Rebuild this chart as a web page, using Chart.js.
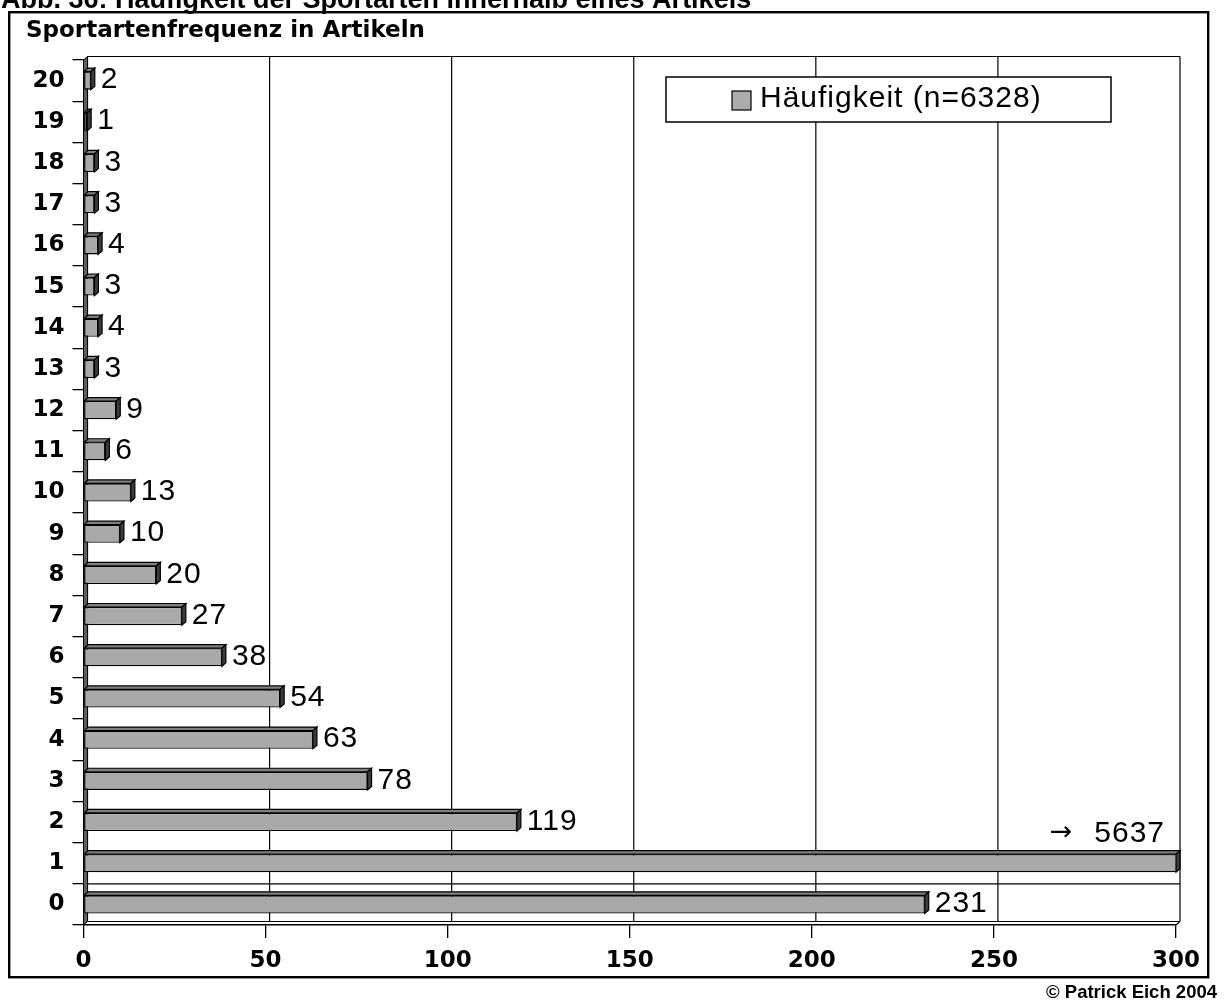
<!DOCTYPE html>
<html lang="de">
<head>
<meta charset="utf-8">
<title>Sportartenfrequenz in Artikeln</title>
<script src="https://cdn.jsdelivr.net/npm/chart.js@4/dist/chart.umd.min.js"></script>
<style>
  html, body { margin: 0; padding: 0; background: #fff; }
  #wrap { position: relative; width: 1224px; height: 1001px; }
  canvas { display: block; }
</style>
</head>
<body>
<div id="wrap"><canvas id="c" width="1224" height="1001"></canvas></div>
<script>
// Number of different sports mentioned per article (0 … 20)
const categories = ['0','1','2','3','4','5','6','7','8','9','10','11','12','13','14','15','16','17','18','19','20'];
const frequencies = [231, 5637, 119, 78, 63, 54, 38, 27, 20, 10, 13, 6, 9, 3, 4, 3, 4, 3, 3, 1, 2];
const valueTicks = [0, 50, 100, 150, 200, 250, 300];
const seriesLabel = 'Häufigkeit (n=6328)';
const figureCaption = 'Abb. 36: Häufigkeit der Sportarten innerhalb eines Artikels';
const chartTitle = 'Sportartenfrequenz in Artikeln';
const credit = '© Patrick Eich 2004';

// pseudo-3D depth of bars and walls
const DX = 4, DY = 3.5;

function poly(ctx, pts, fill) {
  ctx.beginPath();
  ctx.moveTo(pts[0][0], pts[0][1]);
  for (let i = 1; i < pts.length; i++) ctx.lineTo(pts[i][0], pts[i][1]);
  ctx.closePath();
  if (fill) { ctx.fillStyle = fill; ctx.fill(); }
  ctx.stroke();
}
function seg(ctx, x1, y1, x2, y2) {
  ctx.beginPath(); ctx.moveTo(x1, y1); ctx.lineTo(x2, y2); ctx.stroke();
}

// back wall, floor and side wall of the 3D plot box
const wallPlugin = {
  id: 'walls',
  beforeDatasetsDraw(chart) {
    const { ctx, chartArea: a, scales: { x, y } } = chart;
    ctx.save();
    ctx.strokeStyle = '#000';
    ctx.lineWidth = 1.2;
    x.ticks.forEach(t => {
      const px = x.getPixelForValue(t.value) + DX;
      seg(ctx, px, a.top - DY, px, a.bottom - DY);
    });
    seg(ctx, a.left + DX, a.top - DY, a.right + DX, a.top - DY);
    seg(ctx, a.left + DX, a.bottom - DY, a.right + DX, a.bottom - DY);
    seg(ctx, a.right, a.bottom, a.right + DX, a.bottom - DY);
    // divider between the first two categories
    const yb = (y.getPixelForValue(0) + y.getPixelForValue(1)) / 2;
    seg(ctx, a.left, yb, a.right + DX, yb);
    // side wall
    ctx.lineWidth = 1;
    poly(ctx, [[a.left, a.top], [a.left + DX, a.top - DY], [a.left + DX, a.bottom - DY], [a.left, a.bottom]], '#5e5e5e');
    ctx.restore();
  }
};

// top and end faces of every bar plus the value labels
const barFacePlugin = {
  id: 'barFaces',
  afterDatasetsDraw(chart) {
    const { ctx, chartArea: a, scales: { x } } = chart;
    const meta = chart.getDatasetMeta(0);
    const values = chart.data.datasets[0].data;
    ctx.save();
    ctx.strokeStyle = '#000';
    ctx.lineWidth = 1.2;
    meta.data.forEach((bar, i) => {
      const p = bar.getProps(['x', 'y', 'base', 'height'], true);
      const right = Math.min(p.x, a.right);
      const top = p.y - p.height / 2, bottom = p.y + p.height / 2;
      poly(ctx, [[p.base, top], [p.base + DX, top - DY], [right + DX, top - DY], [right, top]], '#808080');
      poly(ctx, [[right, top], [right + DX, top - DY], [right + DX, bottom - DY], [right, bottom]], '#3c3c3c');
    });
    ctx.fillStyle = '#000';
    ctx.letterSpacing = '1px';
    meta.data.forEach((bar, i) => {
      const p = bar.getProps(['x', 'y'], true);
      const v = values[i];
      if (v > x.max) {
        // bar runs off the scale: value shown above it with an arrow
        ctx.font = '30px "Liberation Sans", Arial, sans-serif';
        ctx.textAlign = 'right';
        ctx.textBaseline = 'alphabetic';
        const cy = p.y - 32;
        const tx = a.right - 11;
        ctx.fillText(String(v), tx, cy + 10.5);
        const w = ctx.measureText(String(v)).width;
        ctx.letterSpacing = '0px';
        ctx.font = '27px "DejaVu Sans", sans-serif';
        ctx.fillText('→', tx - w - 22, cy + 9);
        ctx.letterSpacing = '1px';
      } else {
        ctx.font = '30px "Liberation Sans", Arial, sans-serif';
        ctx.textAlign = 'left';
        ctx.textBaseline = 'alphabetic';
        ctx.fillText(String(v), p.x + DX + 6, p.y + 7.7);
      }
    });
    ctx.restore();
  }
};

// frame, captions and legend box
const decorPlugin = {
  id: 'decor',
  afterDraw(chart) {
    const { ctx } = chart;
    ctx.save();
    ctx.fillStyle = '#000';
    ctx.textBaseline = 'alphabetic';
    ctx.font = 'bold 27px "Liberation Sans", Arial, sans-serif';
    ctx.textAlign = 'left';
    ctx.fillText(figureCaption, 1, 8);

    ctx.strokeStyle = '#000';
    ctx.lineWidth = 2.4;
    ctx.strokeRect(9.2, 12.2, 1199, 965);

    ctx.font = 'bold 23px "DejaVu Sans", sans-serif';
    ctx.fillText(chartTitle, 26, 37);

    ctx.font = 'bold 18.5px "Liberation Sans", Arial, sans-serif';
    ctx.textAlign = 'right';
    ctx.fillText(credit, 1217, 998);

    // legend
    ctx.lineWidth = 1.5;
    ctx.fillStyle = '#fff';
    ctx.fillRect(666, 77, 445, 45);
    ctx.strokeRect(666, 77, 445, 45);
    ctx.lineWidth = 1.2;
    ctx.fillStyle = '#acacac';
    ctx.fillRect(732, 91, 19, 19);
    ctx.strokeRect(732, 91, 19, 19);
    ctx.fillStyle = '#000';
    ctx.textAlign = 'left';
    ctx.letterSpacing = '1px';
    ctx.font = '30px "Liberation Sans", Arial, sans-serif';
    ctx.fillText(chart.data.datasets[0].label, 760, 106.5);
    ctx.restore();
  }
};

const tickFont = { family: '"DejaVu Sans", sans-serif', size: 23, weight: 'bold' };

new Chart(document.getElementById('c'), {
  type: 'bar',
  data: {
    labels: categories,
    datasets: [{
      label: seriesLabel,
      data: frequencies,
      backgroundColor: '#a9a9a9',
      borderColor: '#000',
      borderWidth: 1.3,
      borderSkipped: false,
      barPercentage: 0.44,
      categoryPercentage: 1,
      clip: { left: 5, top: 10, right: 0, bottom: 10 }
    }]
  },
  options: {
    indexAxis: 'y',
    responsive: false,
    animation: false,
    devicePixelRatio: 1,
    layout: { padding: { left: 0, right: 48, top: 60, bottom: 26 } },
    plugins: {
      legend: { display: false },
      tooltip: { enabled: false },
      title: { display: false }
    },
    scales: {
      x: {
        min: 0,
        max: 300,
        afterBuildTicks(scale) { scale.ticks = valueTicks.map(v => ({ value: v })); },
        afterFit(scale) { scale.height = 50; },
        grid: { drawOnChartArea: false, drawTicks: true, tickLength: 13, color: '#000', lineWidth: 1.3 },
        border: { display: true, color: '#000', width: 1.5 },
        ticks: { color: '#000', font: tickFont, padding: 9, maxRotation: 0 }
      },
      y: {
        reverse: true,
        afterFit(scale) { scale.width = 83.5; },
        grid: { drawOnChartArea: false, drawTicks: true, offset: true, tickLength: 11, color: '#000', lineWidth: 1.3 },
        border: { display: true, color: '#000', width: 2 },
        ticks: { color: '#000', font: tickFont, padding: 8, autoSkip: false }
      }
    }
  },
  plugins: [wallPlugin, barFacePlugin, decorPlugin]
});
</script>
</body>
</html>
